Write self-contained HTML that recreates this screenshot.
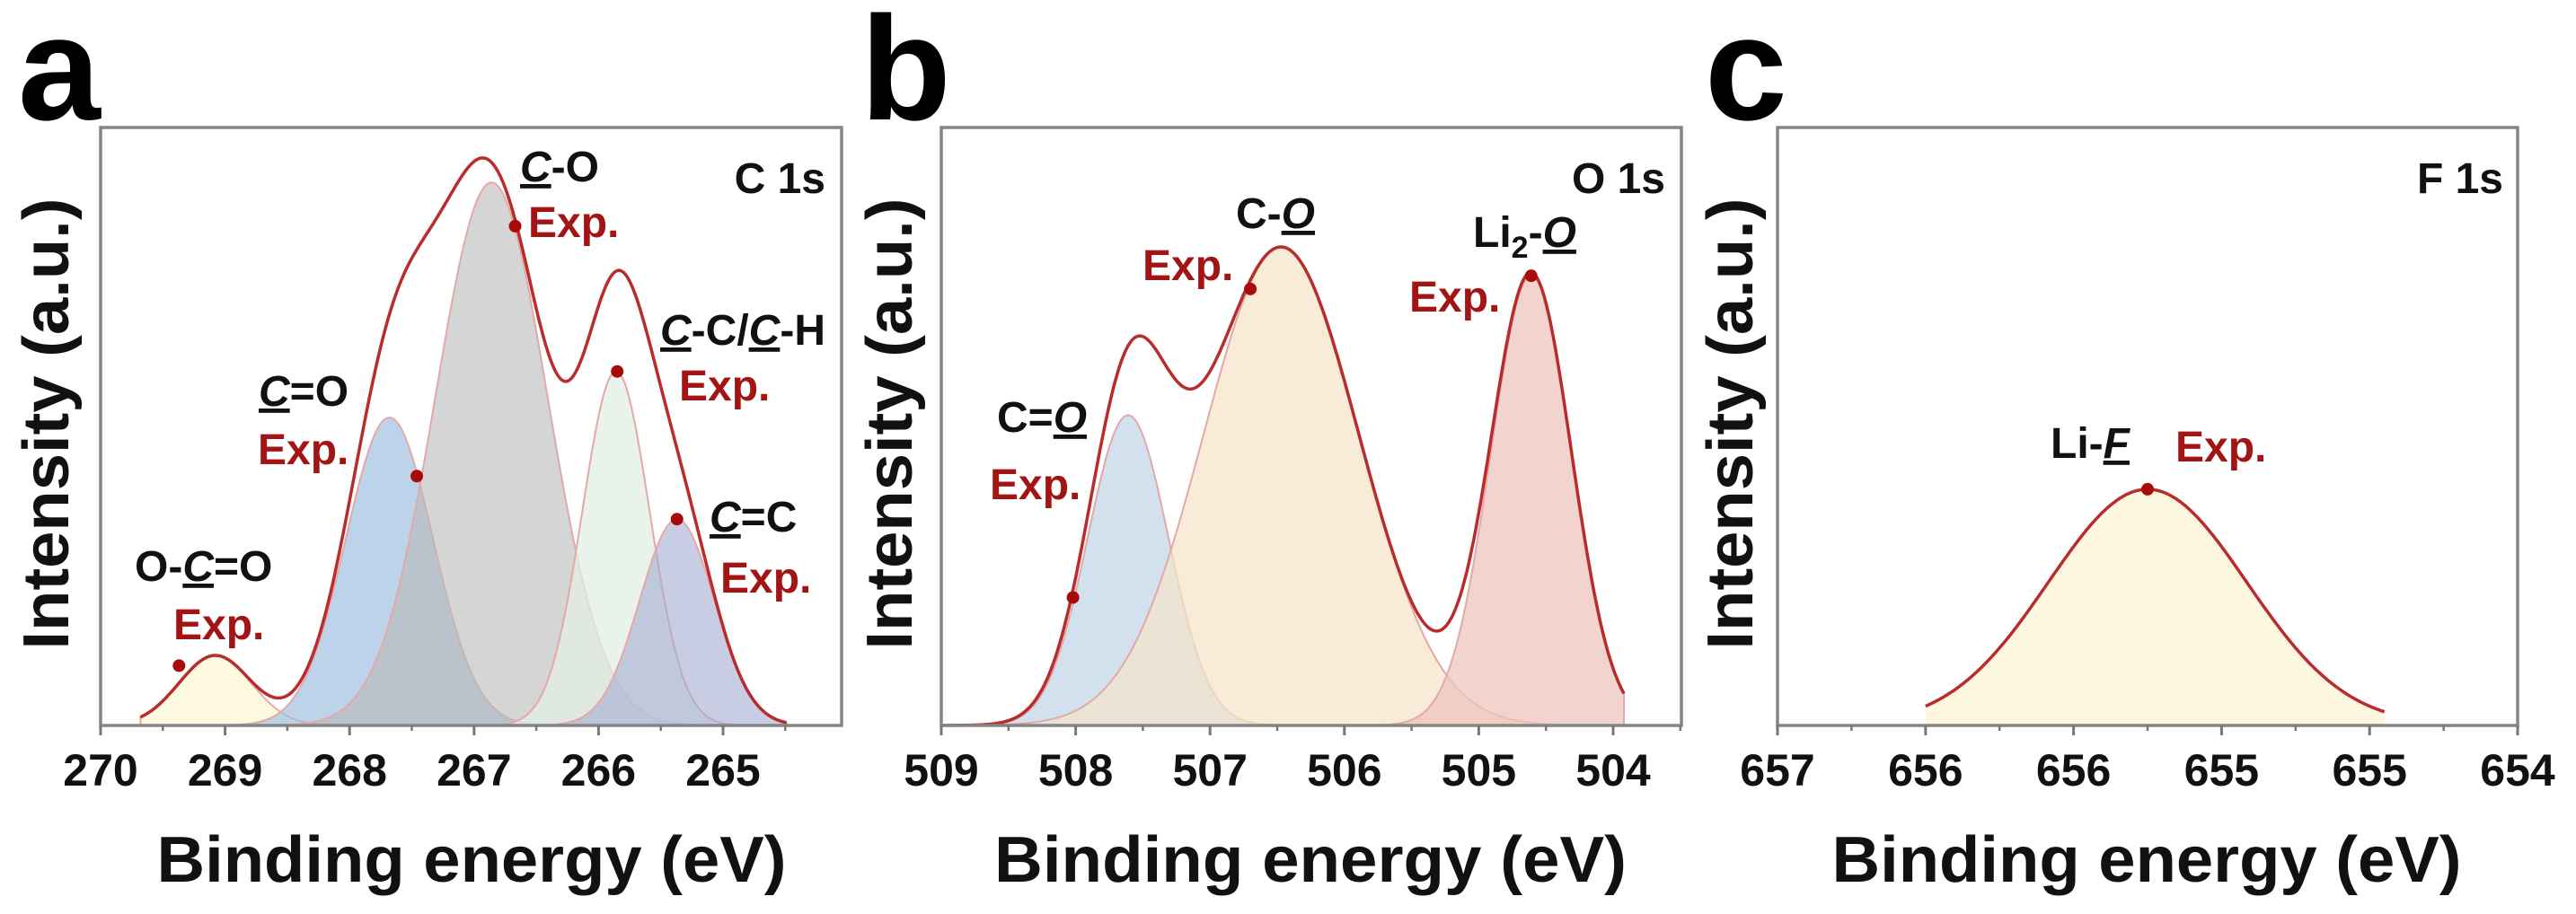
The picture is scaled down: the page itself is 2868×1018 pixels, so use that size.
<!DOCTYPE html>
<html><head><meta charset="utf-8">
<style>
html,body{margin:0;padding:0;background:#fff;}
svg{display:block;font-family:"Liberation Sans",Arial,sans-serif;}
.tk{font-size:50px;font-weight:bold;fill:#111;text-anchor:middle;}
.an{font-size:48px;font-weight:bold;fill:#111;}
.ex{font-size:48px;font-weight:bold;fill:#a31515;}
.ttl{font-size:72px;font-weight:bold;fill:#111;}
.let{font-size:165px;font-weight:bold;fill:#000;}
</style></head>
<body>
<svg id="fig" width="2868" height="1018" viewBox="0 0 2868 1018" xmlns="http://www.w3.org/2000/svg">
<g id="layer-fills"></g>
<g id="layer-axes"></g>
<g id="layer-text">
  <text class="let" x="20" y="133">a</text>
  <text class="let" x="958" y="133">b</text>
  <text class="let" x="1898" y="133">c</text>

  <text class="an" x="919" y="215" text-anchor="end">C 1s</text>
  <text class="an" x="579" y="202"><tspan font-style="italic" text-decoration="underline">C</tspan>-O</text>
  <text class="ex" x="588" y="264">Exp.</text>
  <text class="an" x="735" y="384"><tspan font-style="italic" text-decoration="underline">C</tspan>-C/<tspan font-style="italic" text-decoration="underline">C</tspan>-H</text>
  <text class="ex" x="756" y="446">Exp.</text>
  <text class="an" x="288" y="452"><tspan font-style="italic" text-decoration="underline">C</tspan>=O</text>
  <text class="ex" x="287" y="517">Exp.</text>
  <text class="an" x="790" y="592"><tspan font-style="italic" text-decoration="underline">C</tspan>=C</text>
  <text class="ex" x="802" y="660">Exp.</text>
  <text class="an" x="150" y="647">O-<tspan font-style="italic" text-decoration="underline">C</tspan>=O</text>
  <text class="ex" x="193" y="712">Exp.</text>

  <text class="an" x="1854" y="215" text-anchor="end">O 1s</text>
  <text class="an" x="1376" y="254">C-<tspan font-style="italic" text-decoration="underline">O</tspan></text>
  <text class="ex" x="1272" y="312">Exp.</text>
  <text class="an" x="1640" y="275">Li<tspan font-size="34" dy="12">2</tspan><tspan dy="-12">-</tspan><tspan font-style="italic" text-decoration="underline">O</tspan></text>
  <text class="ex" x="1569" y="347">Exp.</text>
  <text class="an" x="1110" y="481">C=<tspan font-style="italic" text-decoration="underline">O</tspan></text>
  <text class="ex" x="1102" y="556">Exp.</text>

  <text class="an" x="2787" y="215" text-anchor="end">F 1s</text>
  <text class="an" x="2283" y="510">Li-<tspan font-style="italic" text-decoration="underline">F</tspan></text>
  <text class="ex" x="2422" y="514">Exp.</text>

  <text class="ttl" x="525" y="982" text-anchor="middle" textLength="701" lengthAdjust="spacingAndGlyphs">Binding energy (eV)</text>
  <text class="ttl" x="1459" y="982" text-anchor="middle" textLength="704" lengthAdjust="spacingAndGlyphs">Binding energy (eV)</text>
  <text class="ttl" x="2390" y="982" text-anchor="middle" textLength="701" lengthAdjust="spacingAndGlyphs">Binding energy (eV)</text>
  <text class="ttl" transform="translate(76,472) rotate(-90)" text-anchor="middle" textLength="503" lengthAdjust="spacingAndGlyphs">Intensity (a.u.)</text>
  <text class="ttl" transform="translate(1015,472) rotate(-90)" text-anchor="middle" textLength="503" lengthAdjust="spacingAndGlyphs">Intensity (a.u.)</text>
  <text class="ttl" transform="translate(1951,472) rotate(-90)" text-anchor="middle" textLength="503" lengthAdjust="spacingAndGlyphs">Intensity (a.u.)</text>
</g>
</svg>
<script>
// Panel a: C 1s
const aCenters = [269.08, 267.68, 266.86, 265.86, 265.37];
const aHeights = [0.117, 0.515, 0.908, 0.592, 0.345];
const aWidths  = [0.29, 0.35, 0.45, 0.27, 0.30];
const aNames   = ['o-c-o','c-double-o','c-o','c-c','c-double-c'];
const aFills   = ['rgba(253,249,220,0.9)','rgba(160,192,224,0.7)','rgba(185,185,185,0.6)','rgba(225,238,228,0.75)','rgba(165,172,210,0.6)'];
const aDotE = [269.37, 267.46, 266.67, 265.85, 265.37];
const aDotV = [0.10, 0.417, 0.835, 0.592, 0.345];
const aTicks = [270, 269, 268, 267, 266, 265];
const aTickLabels = ['270','269','268','267','266','265'];
// Panel b: O 1s
const bCenters = [507.61, 506.47, 504.61];
const bHeights = [0.519, 0.80, 0.753];
const bWidths  = [0.30, 0.58, 0.30];
const bNames   = ['c-double-o','c-o','li2o'];
const bFills   = ['rgba(200,218,234,0.8)','rgba(245,228,200,0.7)','rgba(238,196,188,0.75)'];
const bDotE = [508.02, 506.70, 504.61];
const bDotV = [0.214, 0.73, 0.752];
const bTicks = [509, 508, 507, 506, 505, 504];
const bTickLabels = ['509','508','507','506','505','504'];
// Panel c: F 1s
const cCenters = [655.55];
const cHeights = [0.395];
const cWidths  = [0.335];
const cNames   = ['li-f'];
const cFills   = ['rgba(253,246,225,1)'];
const cDotE = [655.55];
const cDotV = [0.395];
const cTicks = [656.8, 656.3, 655.8, 655.3, 654.8, 654.3];
const cTickLabels = ['657','656','656','655','655','654'];

const NS='http://www.w3.org/2000/svg';
const fills=document.getElementById('layer-fills');
const axes=document.getElementById('layer-axes');
function mk(tag,attrs,parent){const e=document.createElementNS(NS,tag);for(const k in attrs)e.setAttribute(k,attrs[k]);parent.appendChild(e);return e;}

const panels=[
 {id:'a',x0:112,x1:937,e0:270,e1:270-(937-112)/138.6,lo:269.68,hi:264.49,C:aCenters,H:aHeights,W:aWidths,N:aNames,F:aFills,DE:aDotE,DV:aDotV,T:aTicks,TL:aTickLabels},
 {id:'b',x0:1048,x1:1872,e0:509,e1:509-(1872-1048)/149.6,lo:509.0,hi:503.92,C:bCenters,H:bHeights,W:bWidths,N:bNames,F:bFills,DE:bDotE,DV:bDotV,T:bTicks,TL:bTickLabels},
 {id:'c',x0:1979,x1:2803,e0:656.8,e1:654.3,lo:656.3,hi:654.75,C:cCenters,H:cHeights,W:cWidths,N:cNames,F:cFills,DE:cDotE,DV:cDotV,T:cTicks,TL:cTickLabels}
];
const yTop=142, yBot=808;
panels.forEach(p=>{
  const xs=e=>p.x0+(p.e0-e)/(p.e0-p.e1)*(p.x1-p.x0);
  const ys=v=>yBot-v*(yBot-yTop);
  const g=(i,e)=>p.H[i]*Math.exp(-((e-p.C[i])**2)/(2*p.W[i]**2));
  const n=300;
  p.C.forEach((c,i)=>{
    let d='M'+xs(p.lo).toFixed(1)+','+yBot;
    for(let k=0;k<=n;k++){const e=p.lo+(p.hi-p.lo)*k/n;d+=' L'+xs(e).toFixed(1)+','+ys(g(i,e)).toFixed(1);}
    d+=' L'+xs(p.hi).toFixed(1)+','+yBot+' Z';
    const el=mk('path',{d:d,fill:p.F[i],stroke:p.id==='c'?'none':'#e4a8a8','stroke-width':2},fills);
    
    
  });
  let d='';
  for(let k=0;k<=n;k++){const e=p.lo+(p.hi-p.lo)*k/n;let s=0;p.C.forEach((c,i)=>s+=g(i,e));d+=(k?' L':'M')+xs(e).toFixed(1)+','+ys(s).toFixed(1);}
  const env=mk('path',{d:d,fill:'none',stroke:'#b82c2c','stroke-width':3.5},fills);
  
  
  p.DE.forEach((e,i)=>{
    const dot=mk('circle',{cx:xs(e),cy:ys(p.DV[i]),r:7,fill:'#a80a0a'},fills);
    
    
  });
  const fr=mk('rect',{x:p.x0,y:yTop,width:p.x1-p.x0,height:yBot-yTop,fill:'none',stroke:'#858585','stroke-width':3.5},axes);
  
  
  p.T.forEach((t,i)=>{
    const x=xs(t);
    const tk=mk('line',{x1:x,x2:x,y1:yBot,y2:yBot+11,stroke:'#777','stroke-width':3},axes);
    
    
    const lb=mk('text',{x:x,y:875,class:'tk'},axes);
    lb.textContent=p.TL[i];
    
    
    const step=(p.T[1]-p.T[0])/2;
    const xm=xs(t+step);
    if(xm<=p.x1+1){
      const mt=mk('line',{x1:xm,x2:xm,y1:yBot,y2:yBot+6,stroke:'#777','stroke-width':2.5},axes);
      
      
    }
  });
});
</script>
</body></html>
